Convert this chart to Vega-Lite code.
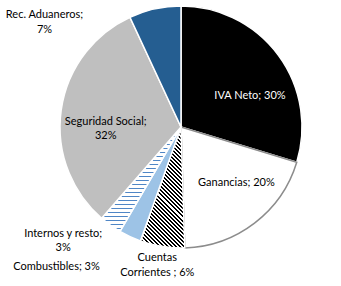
{
  "$schema": "https://vega.github.io/schema/vega-lite/v6.json",
  "width": 320,
  "height": 254,
  "autosize": {"type": "none"},
  "padding": {"left": 21, "top": 0, "right": 0, "bottom": 32},
  "background": "white",
  "config": {"view": {"stroke": null}},
  "data": {"values": [
    {"ord": 1, "cat": "IVA Neto", "share": 30, "label": "IVA Neto; 30%"},
    {"ord": 2, "cat": "Ganancias", "share": 20, "label": "Ganancias; 20%"},
    {"ord": 3, "cat": "Cuentas Corrientes", "share": 6, "label": "Cuentas\nCorrientes ; 6%"},
    {"ord": 4, "cat": "Combustibles", "share": 3, "label": "Combustibles; 3%"},
    {"ord": 5, "cat": "Internos y resto", "share": 3, "label": "Internos y resto;\n3%"},
    {"ord": 6, "cat": "Seguridad Social", "share": 32, "label": "Seguridad Social;\n32%"},
    {"ord": 7, "cat": "Rec. Aduaneros", "share": 7, "label": "Rec. Aduaneros;\n7%"}
  ]},
  "encoding": {
    "theta": {"field": "share", "type": "quantitative", "stack": true},
    "order": {"field": "ord", "type": "quantitative"}
  },
  "layer": [
    {
      "mark": {"type": "arc", "outerRadius": 121, "strokeWidth": 1.5},
      "encoding": {
        "fill": {
          "condition": [
            {"test": "datum.cat === 'IVA Neto'", "value": "#000000"},
            {"test": "datum.cat === 'Ganancias'", "value": "#ffffff"},
            {"test": "datum.cat === 'Cuentas Corrientes'", "value": {
              "gradient": "linear", "x1": 0, "y1": 1, "x2": 0.442, "y2": -0.205,
              "stops": [
                {"offset": 0, "color": "#000000"}, {"offset": 0.0122, "color": "#000000"}, {"offset": 0.0122, "color": "#ffffff"}, {"offset": 0.0244, "color": "#ffffff"},
                {"offset": 0.0244, "color": "#000000"}, {"offset": 0.0366, "color": "#000000"}, {"offset": 0.0366, "color": "#ffffff"}, {"offset": 0.0488, "color": "#ffffff"},
                {"offset": 0.0488, "color": "#000000"}, {"offset": 0.0610, "color": "#000000"}, {"offset": 0.0610, "color": "#ffffff"}, {"offset": 0.0732, "color": "#ffffff"},
                {"offset": 0.0732, "color": "#000000"}, {"offset": 0.0854, "color": "#000000"}, {"offset": 0.0854, "color": "#ffffff"}, {"offset": 0.0976, "color": "#ffffff"},
                {"offset": 0.0976, "color": "#000000"}, {"offset": 0.1098, "color": "#000000"}, {"offset": 0.1098, "color": "#ffffff"}, {"offset": 0.1220, "color": "#ffffff"},
                {"offset": 0.1220, "color": "#000000"}, {"offset": 0.1341, "color": "#000000"}, {"offset": 0.1341, "color": "#ffffff"}, {"offset": 0.1463, "color": "#ffffff"},
                {"offset": 0.1463, "color": "#000000"}, {"offset": 0.1585, "color": "#000000"}, {"offset": 0.1585, "color": "#ffffff"}, {"offset": 0.1707, "color": "#ffffff"},
                {"offset": 0.1707, "color": "#000000"}, {"offset": 0.1829, "color": "#000000"}, {"offset": 0.1829, "color": "#ffffff"}, {"offset": 0.1951, "color": "#ffffff"},
                {"offset": 0.1951, "color": "#000000"}, {"offset": 0.2073, "color": "#000000"}, {"offset": 0.2073, "color": "#ffffff"}, {"offset": 0.2195, "color": "#ffffff"},
                {"offset": 0.2195, "color": "#000000"}, {"offset": 0.2317, "color": "#000000"}, {"offset": 0.2317, "color": "#ffffff"}, {"offset": 0.2439, "color": "#ffffff"},
                {"offset": 0.2439, "color": "#000000"}, {"offset": 0.2561, "color": "#000000"}, {"offset": 0.2561, "color": "#ffffff"}, {"offset": 0.2683, "color": "#ffffff"},
                {"offset": 0.2683, "color": "#000000"}, {"offset": 0.2805, "color": "#000000"}, {"offset": 0.2805, "color": "#ffffff"}, {"offset": 0.2927, "color": "#ffffff"},
                {"offset": 0.2927, "color": "#000000"}, {"offset": 0.3049, "color": "#000000"}, {"offset": 0.3049, "color": "#ffffff"}, {"offset": 0.3171, "color": "#ffffff"},
                {"offset": 0.3171, "color": "#000000"}, {"offset": 0.3293, "color": "#000000"}, {"offset": 0.3293, "color": "#ffffff"}, {"offset": 0.3415, "color": "#ffffff"},
                {"offset": 0.3415, "color": "#000000"}, {"offset": 0.3537, "color": "#000000"}, {"offset": 0.3537, "color": "#ffffff"}, {"offset": 0.3659, "color": "#ffffff"},
                {"offset": 0.3659, "color": "#000000"}, {"offset": 0.3780, "color": "#000000"}, {"offset": 0.3780, "color": "#ffffff"}, {"offset": 0.3902, "color": "#ffffff"},
                {"offset": 0.3902, "color": "#000000"}, {"offset": 0.4024, "color": "#000000"}, {"offset": 0.4024, "color": "#ffffff"}, {"offset": 0.4146, "color": "#ffffff"},
                {"offset": 0.4146, "color": "#000000"}, {"offset": 0.4268, "color": "#000000"}, {"offset": 0.4268, "color": "#ffffff"}, {"offset": 0.4390, "color": "#ffffff"},
                {"offset": 0.4390, "color": "#000000"}, {"offset": 0.4512, "color": "#000000"}, {"offset": 0.4512, "color": "#ffffff"}, {"offset": 0.4634, "color": "#ffffff"},
                {"offset": 0.4634, "color": "#000000"}, {"offset": 0.4756, "color": "#000000"}, {"offset": 0.4756, "color": "#ffffff"}, {"offset": 0.4878, "color": "#ffffff"},
                {"offset": 0.4878, "color": "#000000"}, {"offset": 0.5000, "color": "#000000"}, {"offset": 0.5000, "color": "#ffffff"}, {"offset": 0.5122, "color": "#ffffff"},
                {"offset": 0.5122, "color": "#000000"}, {"offset": 0.5244, "color": "#000000"}, {"offset": 0.5244, "color": "#ffffff"}, {"offset": 0.5366, "color": "#ffffff"},
                {"offset": 0.5366, "color": "#000000"}, {"offset": 0.5488, "color": "#000000"}, {"offset": 0.5488, "color": "#ffffff"}, {"offset": 0.5610, "color": "#ffffff"},
                {"offset": 0.5610, "color": "#000000"}, {"offset": 0.5732, "color": "#000000"}, {"offset": 0.5732, "color": "#ffffff"}, {"offset": 0.5854, "color": "#ffffff"},
                {"offset": 0.5854, "color": "#000000"}, {"offset": 0.5976, "color": "#000000"}, {"offset": 0.5976, "color": "#ffffff"}, {"offset": 0.6098, "color": "#ffffff"},
                {"offset": 0.6098, "color": "#000000"}, {"offset": 0.6220, "color": "#000000"}, {"offset": 0.6220, "color": "#ffffff"}, {"offset": 0.6341, "color": "#ffffff"},
                {"offset": 0.6341, "color": "#000000"}, {"offset": 0.6463, "color": "#000000"}, {"offset": 0.6463, "color": "#ffffff"}, {"offset": 0.6585, "color": "#ffffff"},
                {"offset": 0.6585, "color": "#000000"}, {"offset": 0.6707, "color": "#000000"}, {"offset": 0.6707, "color": "#ffffff"}, {"offset": 0.6829, "color": "#ffffff"},
                {"offset": 0.6829, "color": "#000000"}, {"offset": 0.6951, "color": "#000000"}, {"offset": 0.6951, "color": "#ffffff"}, {"offset": 0.7073, "color": "#ffffff"},
                {"offset": 0.7073, "color": "#000000"}, {"offset": 0.7195, "color": "#000000"}, {"offset": 0.7195, "color": "#ffffff"}, {"offset": 0.7317, "color": "#ffffff"},
                {"offset": 0.7317, "color": "#000000"}, {"offset": 0.7439, "color": "#000000"}, {"offset": 0.7439, "color": "#ffffff"}, {"offset": 0.7561, "color": "#ffffff"},
                {"offset": 0.7561, "color": "#000000"}, {"offset": 0.7683, "color": "#000000"}, {"offset": 0.7683, "color": "#ffffff"}, {"offset": 0.7805, "color": "#ffffff"},
                {"offset": 0.7805, "color": "#000000"}, {"offset": 0.7927, "color": "#000000"}, {"offset": 0.7927, "color": "#ffffff"}, {"offset": 0.8049, "color": "#ffffff"},
                {"offset": 0.8049, "color": "#000000"}, {"offset": 0.8171, "color": "#000000"}, {"offset": 0.8171, "color": "#ffffff"}, {"offset": 0.8293, "color": "#ffffff"},
                {"offset": 0.8293, "color": "#000000"}, {"offset": 0.8415, "color": "#000000"}, {"offset": 0.8415, "color": "#ffffff"}, {"offset": 0.8537, "color": "#ffffff"},
                {"offset": 0.8537, "color": "#000000"}, {"offset": 0.8659, "color": "#000000"}, {"offset": 0.8659, "color": "#ffffff"}, {"offset": 0.8780, "color": "#ffffff"},
                {"offset": 0.8780, "color": "#000000"}, {"offset": 0.8902, "color": "#000000"}, {"offset": 0.8902, "color": "#ffffff"}, {"offset": 0.9024, "color": "#ffffff"},
                {"offset": 0.9024, "color": "#000000"}, {"offset": 0.9146, "color": "#000000"}, {"offset": 0.9146, "color": "#ffffff"}, {"offset": 0.9268, "color": "#ffffff"},
                {"offset": 0.9268, "color": "#000000"}, {"offset": 0.9390, "color": "#000000"}, {"offset": 0.9390, "color": "#ffffff"}, {"offset": 0.9512, "color": "#ffffff"},
                {"offset": 0.9512, "color": "#000000"}, {"offset": 0.9634, "color": "#000000"}, {"offset": 0.9634, "color": "#ffffff"}, {"offset": 0.9756, "color": "#ffffff"},
                {"offset": 0.9756, "color": "#000000"}, {"offset": 0.9878, "color": "#000000"}, {"offset": 0.9878, "color": "#ffffff"}, {"offset": 1, "color": "#ffffff"}
              ]
            }},
            {"test": "datum.cat === 'Combustibles'", "value": "#9dc3e6"},
            {"test": "datum.cat === 'Internos y resto'", "value": {
              "gradient": "linear", "x1": 0, "y1": 0, "x2": 0, "y2": 1,
              "stops": [
                {"offset": 0, "color": "#ffffff"},
                {"offset": 0.005, "color": "#ffffff"}, {"offset": 0.005, "color": "#4f86c6"}, {"offset": 0.0155, "color": "#4f86c6"}, {"offset": 0.0155, "color": "#ffffff"},
                {"offset": 0.0435, "color": "#ffffff"}, {"offset": 0.0435, "color": "#4f86c6"}, {"offset": 0.054, "color": "#4f86c6"}, {"offset": 0.054, "color": "#ffffff"},
                {"offset": 0.0819, "color": "#ffffff"}, {"offset": 0.0819, "color": "#4f86c6"}, {"offset": 0.0924, "color": "#4f86c6"}, {"offset": 0.0924, "color": "#ffffff"},
                {"offset": 0.1204, "color": "#ffffff"}, {"offset": 0.1204, "color": "#4f86c6"}, {"offset": 0.1309, "color": "#4f86c6"}, {"offset": 0.1309, "color": "#ffffff"},
                {"offset": 0.1588, "color": "#ffffff"}, {"offset": 0.1588, "color": "#4f86c6"}, {"offset": 0.1693, "color": "#4f86c6"}, {"offset": 0.1693, "color": "#ffffff"},
                {"offset": 0.1973, "color": "#ffffff"}, {"offset": 0.1973, "color": "#4f86c6"}, {"offset": 0.2078, "color": "#4f86c6"}, {"offset": 0.2078, "color": "#ffffff"},
                {"offset": 0.2358, "color": "#ffffff"}, {"offset": 0.2358, "color": "#4f86c6"}, {"offset": 0.2463, "color": "#4f86c6"}, {"offset": 0.2463, "color": "#ffffff"},
                {"offset": 0.2742, "color": "#ffffff"}, {"offset": 0.2742, "color": "#4f86c6"}, {"offset": 0.2847, "color": "#4f86c6"}, {"offset": 0.2847, "color": "#ffffff"},
                {"offset": 0.3127, "color": "#ffffff"}, {"offset": 0.3127, "color": "#4f86c6"}, {"offset": 0.3232, "color": "#4f86c6"}, {"offset": 0.3232, "color": "#ffffff"},
                {"offset": 0.3512, "color": "#ffffff"}, {"offset": 0.3512, "color": "#4f86c6"}, {"offset": 0.3617, "color": "#4f86c6"}, {"offset": 0.3617, "color": "#ffffff"},
                {"offset": 0.3896, "color": "#ffffff"}, {"offset": 0.3896, "color": "#4f86c6"}, {"offset": 0.4001, "color": "#4f86c6"}, {"offset": 0.4001, "color": "#ffffff"},
                {"offset": 0.4281, "color": "#ffffff"}, {"offset": 0.4281, "color": "#4f86c6"}, {"offset": 0.4386, "color": "#4f86c6"}, {"offset": 0.4386, "color": "#ffffff"},
                {"offset": 0.4665, "color": "#ffffff"}, {"offset": 0.4665, "color": "#4f86c6"}, {"offset": 0.477, "color": "#4f86c6"}, {"offset": 0.477, "color": "#ffffff"},
                {"offset": 0.505, "color": "#ffffff"}, {"offset": 0.505, "color": "#4f86c6"}, {"offset": 0.5155, "color": "#4f86c6"}, {"offset": 0.5155, "color": "#ffffff"},
                {"offset": 0.5435, "color": "#ffffff"}, {"offset": 0.5435, "color": "#4f86c6"}, {"offset": 0.554, "color": "#4f86c6"}, {"offset": 0.554, "color": "#ffffff"},
                {"offset": 0.5819, "color": "#ffffff"}, {"offset": 0.5819, "color": "#4f86c6"}, {"offset": 0.5924, "color": "#4f86c6"}, {"offset": 0.5924, "color": "#ffffff"},
                {"offset": 0.6204, "color": "#ffffff"}, {"offset": 0.6204, "color": "#4f86c6"}, {"offset": 0.6309, "color": "#4f86c6"}, {"offset": 0.6309, "color": "#ffffff"},
                {"offset": 0.6588, "color": "#ffffff"}, {"offset": 0.6588, "color": "#4f86c6"}, {"offset": 0.6693, "color": "#4f86c6"}, {"offset": 0.6693, "color": "#ffffff"},
                {"offset": 0.6973, "color": "#ffffff"}, {"offset": 0.6973, "color": "#4f86c6"}, {"offset": 0.7078, "color": "#4f86c6"}, {"offset": 0.7078, "color": "#ffffff"},
                {"offset": 0.7358, "color": "#ffffff"}, {"offset": 0.7358, "color": "#4f86c6"}, {"offset": 0.7463, "color": "#4f86c6"}, {"offset": 0.7463, "color": "#ffffff"},
                {"offset": 0.7742, "color": "#ffffff"}, {"offset": 0.7742, "color": "#4f86c6"}, {"offset": 0.7847, "color": "#4f86c6"}, {"offset": 0.7847, "color": "#ffffff"},
                {"offset": 0.8127, "color": "#ffffff"}, {"offset": 0.8127, "color": "#4f86c6"}, {"offset": 0.8232, "color": "#4f86c6"}, {"offset": 0.8232, "color": "#ffffff"},
                {"offset": 0.8512, "color": "#ffffff"}, {"offset": 0.8512, "color": "#4f86c6"}, {"offset": 0.8617, "color": "#4f86c6"}, {"offset": 0.8617, "color": "#ffffff"},
                {"offset": 0.8896, "color": "#ffffff"}, {"offset": 0.8896, "color": "#4f86c6"}, {"offset": 0.9001, "color": "#4f86c6"}, {"offset": 0.9001, "color": "#ffffff"},
                {"offset": 0.9281, "color": "#ffffff"}, {"offset": 0.9281, "color": "#4f86c6"}, {"offset": 0.9386, "color": "#4f86c6"}, {"offset": 0.9386, "color": "#ffffff"},
                {"offset": 0.9665, "color": "#ffffff"}, {"offset": 0.9665, "color": "#4f86c6"}, {"offset": 0.977, "color": "#4f86c6"}, {"offset": 0.977, "color": "#ffffff"},
                {"offset": 1, "color": "#ffffff"}
              ]
            }},
            {"test": "datum.cat === 'Seguridad Social'", "value": "#bfbfbf"}
          ],
          "value": "#255e91"
        },
        "stroke": {
          "condition": {"test": "datum.cat === 'Ganancias'", "value": "#8c8c8c"},
          "value": "#ffffff"
        }
      }
    },
    {
      "mark": {
        "type": "text",
        "font": "Lato",
        "fontSize": 11,
        "lineBreak": "\n",
        "lineHeight": 14.5,
        "align": "center",
        "baseline": "middle",
        "radius": {"expr": "datum.cat === 'IVA Neto' ? 74 : datum.cat === 'Ganancias' ? 78 : datum.cat === 'Cuentas Corrientes' ? 140 : datum.cat === 'Combustibles' ? 179 : datum.cat === 'Internos y resto' ? 161 : datum.cat === 'Seguridad Social' ? 74 : 132"},
        "dx": {"expr": "datum.cat === 'IVA Neto' ? 9.5 : datum.cat === 'Ganancias' ? 8 : datum.cat === 'Cuentas Corrientes' ? -2 : datum.cat === 'Combustibles' ? -49 : datum.cat === 'Internos y resto' ? -24 : datum.cat === 'Seguridad Social' ? -2 : -108"},
        "dy": {"expr": "datum.cat === 'IVA Neto' ? 13 : datum.cat === 'Ganancias' ? -6 : datum.cat === 'Cuentas Corrientes' ? -7 : datum.cat === 'Combustibles' ? -22 : datum.cat === 'Internos y resto' ? -24 : datum.cat === 'Seguridad Social' ? 5 : 17"}
      },
      "encoding": {
        "text": {"field": "label"},
        "color": {
          "condition": {"test": "datum.cat === 'IVA Neto'", "value": "#ffffff"},
          "value": "#000000"
        }
      }
    }
  ]
}
